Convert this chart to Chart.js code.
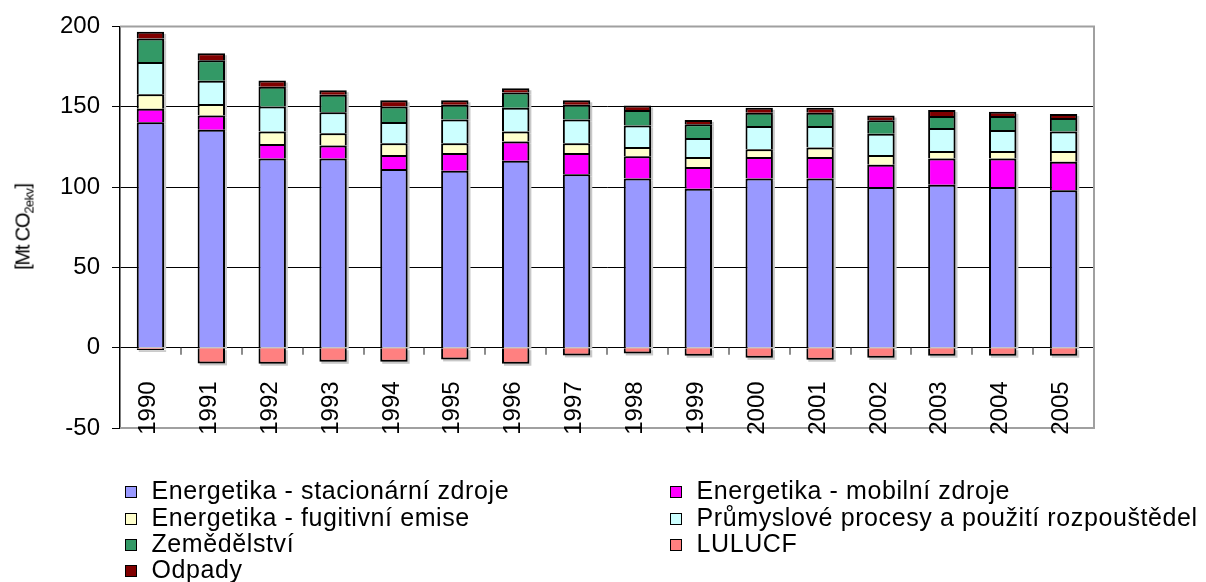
<!DOCTYPE html>
<html><head><meta charset="utf-8">
<script src="https://cdn.jsdelivr.net/npm/chart.js@4.4.1/dist/chart.umd.min.js"></script>
<style>
html,body{margin:0;padding:0;background:#fff;}
#wrap{position:relative;width:1206px;height:582px;overflow:hidden;font-family:"Liberation Sans",Arial,sans-serif;}
canvas{position:absolute;left:0;top:0;}
#ytitle{position:absolute;left:24px;top:227px;transform:translate(-50%,-50%) rotate(-90deg);font-size:20px;letter-spacing:-1.2px;white-space:nowrap;color:#000;}
#ytitle sub{font-size:13px;vertical-align:-4px;letter-spacing:-0.6px;}
.li{position:absolute;height:26px;line-height:26px;font-size:25px;letter-spacing:0.6px;white-space:nowrap;color:#000;}
.sq{position:absolute;left:0;top:9px;width:10px;height:10px;border:1.5px solid #000;}
.lt{position:absolute;left:26.5px;top:0;}
</style></head><body>
<div id="wrap"><canvas id="c" width="1206" height="582"></canvas><div id="ytitle">[Mt CO<sub>2ekv</sub>]</div><div id="legend"></div></div>
<script>
const years = ['1990','1991','1992','1993','1994','1995','1996','1997','1998','1999','2000','2001','2002','2003','2004','2005'];
const stacionarni = [140.3,135.7,117.7,117.7,111.3,110.2,116.3,107.9,105.3,99.0,105.3,105.3,100.0,101.5,100.0,98.0];
const mobilni     = [8.5,8.8,9.1,8.1,8.7,11.0,12.0,13.3,13.9,13.5,13.4,13.4,13.8,16.2,17.7,17.8];
const fugitivni   = [9.0,7.2,7.7,7.7,7.2,6.0,6.2,6.0,5.8,6.2,4.8,5.9,6.2,4.8,4.8,6.7];
const prumysl     = [20.1,14.4,15.6,13.1,13.3,14.8,14.8,14.8,13.3,11.9,14.5,13.4,13.1,14.3,13.0,12.0];
const zemedelstvi = [14.5,12.9,12.4,10.9,9.6,9.3,9.5,9.3,9.7,8.5,8.3,8.3,8.5,7.5,8.8,8.5];
const odpady      = [4.2,4.3,3.8,2.8,3.9,2.7,2.7,2.7,2.7,2.7,3.0,3.0,2.9,3.7,2.5,2.5];
const lulucf      = [-1.4,-9.8,-10.0,-8.8,-8.8,-7.3,-10.0,-4.8,-3.6,-5.0,-6.3,-7.5,-6.3,-5.0,-5.0,-5.0];
const yTicks = [-50,0,50,100,150,200];

const FONT = '"Liberation Sans", Arial, sans-serif';

const datasets = [
  {label:'Energetika - stacionární zdroje', data:stacionarni, backgroundColor:'#9999FF'},
  {label:'Energetika - mobilní zdroje', data:mobilni, backgroundColor:'#FF00FF'},
  {label:'Energetika - fugitivní emise', data:fugitivni, backgroundColor:'#FFFFCC'},
  {label:'Průmyslové procesy a použití rozpouštědel', data:prumysl, backgroundColor:'#CCFFFF'},
  {label:'Zemědělství', data:zemedelstvi, backgroundColor:'#339966'},
  {label:'Odpady', data:odpady, backgroundColor:'#800000'},
  {label:'LULUCF', data:lulucf, backgroundColor:'#FF8080'}
];
const legendOrder = [0,1,2,3,4,6,5];

const framePlugin = {
  id:'frame',
  beforeDatasetsDraw(chart){
    const {ctx, chartArea:a} = chart;
    ctx.save();
    ctx.fillStyle = '#c8c8c8';
    chart.data.datasets.forEach((ds,i)=>{
      chart.getDatasetMeta(i).data.forEach(el=>{
        const top = Math.min(el.y, el.base), h = Math.abs(el.base - el.y);
        if (h > 0) ctx.fillRect(el.x - el.width/2 + 2, top + 2, el.width, h);
      });
    });
    ctx.strokeStyle = '#a0a0a0'; ctx.lineWidth = 2;
    ctx.beginPath();
    ctx.moveTo(a.left, a.top); ctx.lineTo(a.right, a.top);
    ctx.lineTo(a.right, a.bottom); ctx.lineTo(a.left, a.bottom);
    ctx.stroke();
    const xs = chart.scales.x, y0 = chart.scales.y.getPixelForValue(0);
    ctx.strokeStyle = '#666'; ctx.lineWidth = 1.5;
    for (let i = 1; i < years.length; i++) {
      const px = Math.round((xs.getPixelForValue(i-1) + xs.getPixelForValue(i)) / 2);
      ctx.beginPath(); ctx.moveTo(px, y0); ctx.lineTo(px, y0 + 7); ctx.stroke();
    }
    ctx.restore();
  },
  afterDraw(chart){
    // category labels, rotated, placed inside the lower plot region (as in the original)
    const {ctx} = chart;
    const xs = chart.scales.x, ys = chart.scales.y;
    const yEnd = ys.getPixelForValue(-21);
    ctx.save();
    ctx.fillStyle = '#000';
    ctx.font = '24px ' + FONT;
    ctx.textAlign = 'right';
    ctx.textBaseline = 'middle';
    chart.data.labels.forEach((lab, i)=>{
      const px = xs.getPixelForValue(i) - 2;
      ctx.save();
      ctx.translate(px, yEnd);
      ctx.rotate(-Math.PI/2);
      ctx.fillText(lab, 0, 0);
      ctx.restore();
    });
    ctx.restore();
  }
};

const chart = new Chart(document.getElementById('c'), {
  type:'bar',
  data:{labels:years, datasets:datasets},
  options:{
    responsive:false, animation:false, devicePixelRatio:1,
    layout:{padding:{left:0, right:112, top:26, bottom:0}},
    plugins:{legend:{display:false}, tooltip:{enabled:false}},
    datasets:{bar:{categoryPercentage:1, barPercentage:0.45, borderColor:'#000', borderWidth:2}},
    scales:{
      x:{stacked:true,
         grid:{display:false, drawTicks:false}, border:{display:false},
         ticks:{display:false},
         afterFit(s){ s.height = 154; }},
      y:{stacked:true, min:yTicks[0], max:yTicks[yTicks.length-1],
         afterBuildTicks(s){ s.ticks = yTicks.map(v=>({value:v})); },
         ticks:{padding:12, color:'#000', font:{family:FONT, size:24}},
         grid:{color:c=>(c.tick && (c.tick.value===200 || c.tick.value===-50)) ? 'rgba(0,0,0,0)' : '#000',
               tickColor:'#000', tickLength:8, lineWidth:1},
         border:{color:'#000', width:1.5},
         afterFit(s){ s.width = 120; }}
    }
  },
  plugins:[framePlugin]
});

const leg = document.getElementById('legend');
legendOrder.forEach((di, k)=>{
  const col = k % 2, row = Math.floor(k / 2);
  const d = document.createElement('div');
  d.className = 'li';
  d.style.left = (col ? 670 : 125) + 'px';
  d.style.top = (477.3 + row * 26.3) + 'px';
  const sq = document.createElement('div'); sq.className = 'sq';
  sq.style.background = datasets[di].backgroundColor;
  const t = document.createElement('span'); t.className = 'lt';
  t.textContent = datasets[di].label;
  d.appendChild(sq); d.appendChild(t);
  leg.appendChild(d);
});
</script>
</body></html>
